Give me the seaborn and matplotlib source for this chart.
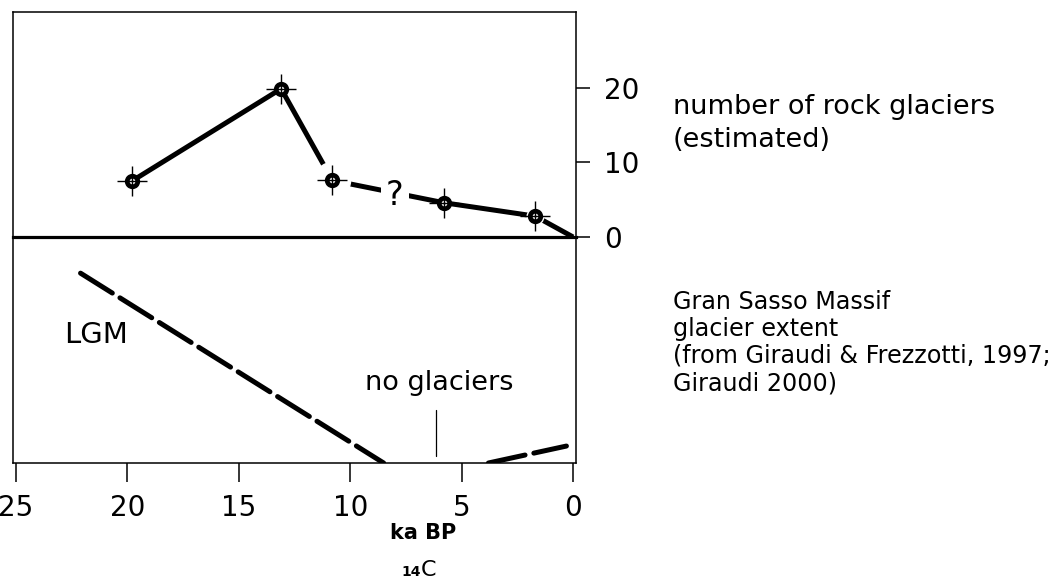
import matplotlib
matplotlib.use("Agg")
import matplotlib.pyplot as plt
import seaborn as sns
import pandas as pd

# ---- data ----
rock_age_ka = [19.8, 13.1, 10.8, 5.8, 1.7, 0.0]
rock_count = [7.5, 19.9, 7.6, 4.6, 2.8, 0.0]
marker_age_ka = [19.8, 13.1, 10.8, 5.8, 1.7]
marker_count = [7.5, 19.9, 7.6, 4.6, 2.8]

lgm_age_ka = [22.1, 8.5]
lgm_extent = [0.84, 0.0]
late_age_ka = [3.8, 0.3]
late_extent = [0.0, 0.075]

x_ticks = [25, 20, 15, 10, 5, 0]
y_ticks = [0, 10, 20]

top_label_lines = ["number of rock glaciers", "(estimated)"]
bottom_label_lines = ["Gran Sasso Massif", "glacier extent",
                      "(from Giraudi & Frezzotti, 1997;", "Giraudi 2000)"]

sns.set_theme(style="white")
plt.rcParams['font.family'] = ['DejaVu Sans']
plt.rcParams['text.color'] = 'black'
plt.rcParams['xtick.color'] = 'black'
plt.rcParams['ytick.color'] = 'black'
plt.rcParams['axes.labelcolor'] = 'black'

W, H = 1058, 581
fig = plt.figure(figsize=(W / 100, H / 100), dpi=100)

def fr(x0, y0, x1, y1):
    return [x0 / W, 1 - y1 / H, (x1 - x0) / W, (y1 - y0) / H]

ax_bot = fig.add_axes(fr(13, 237, 576, 463))
ax_top = fig.add_axes(fr(13, 12, 576, 237))
ax_top.patch.set_visible(False)

xlim = (25.13, -0.13)
for ax in (ax_top, ax_bot):
    ax.set_xlim(*xlim)
    for s in ax.spines.values():
        s.set_color("black")
        s.set_linewidth(1.1)

# ---- top panel ----
df_rock = pd.DataFrame({"age": rock_age_ka, "n": rock_count})
sns.lineplot(data=df_rock, x="age", y="n", ax=ax_top, color="black",
             linewidth=3.6, sort=False, estimator=None, solid_capstyle="butt")
# gap around third and fifth markers
ax_top.plot([marker_age_ka[2]], [marker_count[2]], marker="o", ms=26,
            mfc="white", mec="white", ls="none", zorder=3)
ax_top.plot([marker_age_ka[4]], [marker_count[4]], marker="o", ms=12,
            mfc="white", mec="white", ls="none", zorder=3)
df_m = pd.DataFrame({"age": marker_age_ka, "n": marker_count})
sns.scatterplot(data=df_m, x="age", y="n", ax=ax_top, marker="+", s=21.6 ** 2,
                color="black", linewidth=1.0, zorder=4)
sns.scatterplot(data=df_m, x="age", y="n", ax=ax_top, marker="o", s=7.6 ** 2,
                facecolor="white", edgecolor="black", linewidth=3.4, zorder=5)
sns.scatterplot(data=df_m, x="age", y="n", ax=ax_top, marker="+", s=6 ** 2,
                color="black", linewidth=1.0, zorder=6)
ax_top.text(8.0, 5.6, "?", fontsize=24, ha="center", va="center", zorder=6,
            bbox=dict(boxstyle="square,pad=0.15", fc="white", ec="none"))

ax_top.set_ylim(0, 30.2)
ax_top.set_xlabel("")
ax_top.set_ylabel("")
ax_top.set_xticks([])
ax_top.yaxis.tick_right()
ax_top.set_yticks(y_ticks)
ax_top.set_yticklabels([str(v) for v in y_ticks])
ax_top.tick_params(axis="y", which="both", right=True, left=False, direction="out",
                   length=10, width=1.1, pad=10, labelsize=20, colors="black")
ax_top.spines["bottom"].set_linewidth(2.3)
ax_top.spines["bottom"].set_zorder(10)

# ---- bottom panel ----
df_lgm = pd.DataFrame({"age": lgm_age_ka, "e": lgm_extent})
df_late = pd.DataFrame({"age": late_age_ka, "e": late_extent})
for d in (df_lgm, df_late):
    sns.lineplot(data=d, x="age", y="e", ax=ax_bot, color="black", linewidth=3.6,
                 sort=False, estimator=None, dashes=False)
for ln in ax_bot.get_lines():
    ln.set_dashes((7.5, 1.8))
    ln.set_dash_capstyle("round")
ax_bot.set_ylim(0, 1)
ax_bot.set_yticks([])
ax_bot.set_xlabel("")
ax_bot.set_ylabel("")
ax_bot.spines["top"].set_visible(False)
ax_bot.set_xticks(x_ticks)
ax_bot.set_xticklabels([str(v) for v in x_ticks])
ax_bot.tick_params(axis="x", bottom=True, direction="out", length=14, width=1.1,
                   pad=8, labelsize=20, colors="black")

ax_bot.text(21.4, 0.567, "LGM", fontsize=21, ha="center", va="center")
ax_bot.text(6.0, 0.355, "no glaciers", fontsize=19.5, ha="center", va="center")
ax_bot.plot([6.16, 6.16], [0.03, 0.235], color="black", linewidth=0.9)

# x-axis label
fig.text(423 / W, 1 - 533 / H, "ka BP", fontsize=15, fontweight="bold",
         ha="center", va="center")
fig.text(421 / W, 1 - 576 / H, "14", fontsize=10, fontweight="bold",
         ha="right", va="baseline")
fig.text(421 / W, 1 - 576 / H, "C", fontsize=16, ha="left", va="baseline")

# right-side annotations
for txt, yc in zip(top_label_lines, [107, 140]):
    fig.text(673 / W, 1 - yc / H, txt, fontsize=19.5, ha="left", va="center")
for txt, yc in zip(bottom_label_lines, [302, 329, 356, 383]):
    fig.text(673 / W, 1 - yc / H, txt, fontsize=17.2, ha="left", va="center")

fig.savefig("out.png", dpi=100, facecolor="white")
